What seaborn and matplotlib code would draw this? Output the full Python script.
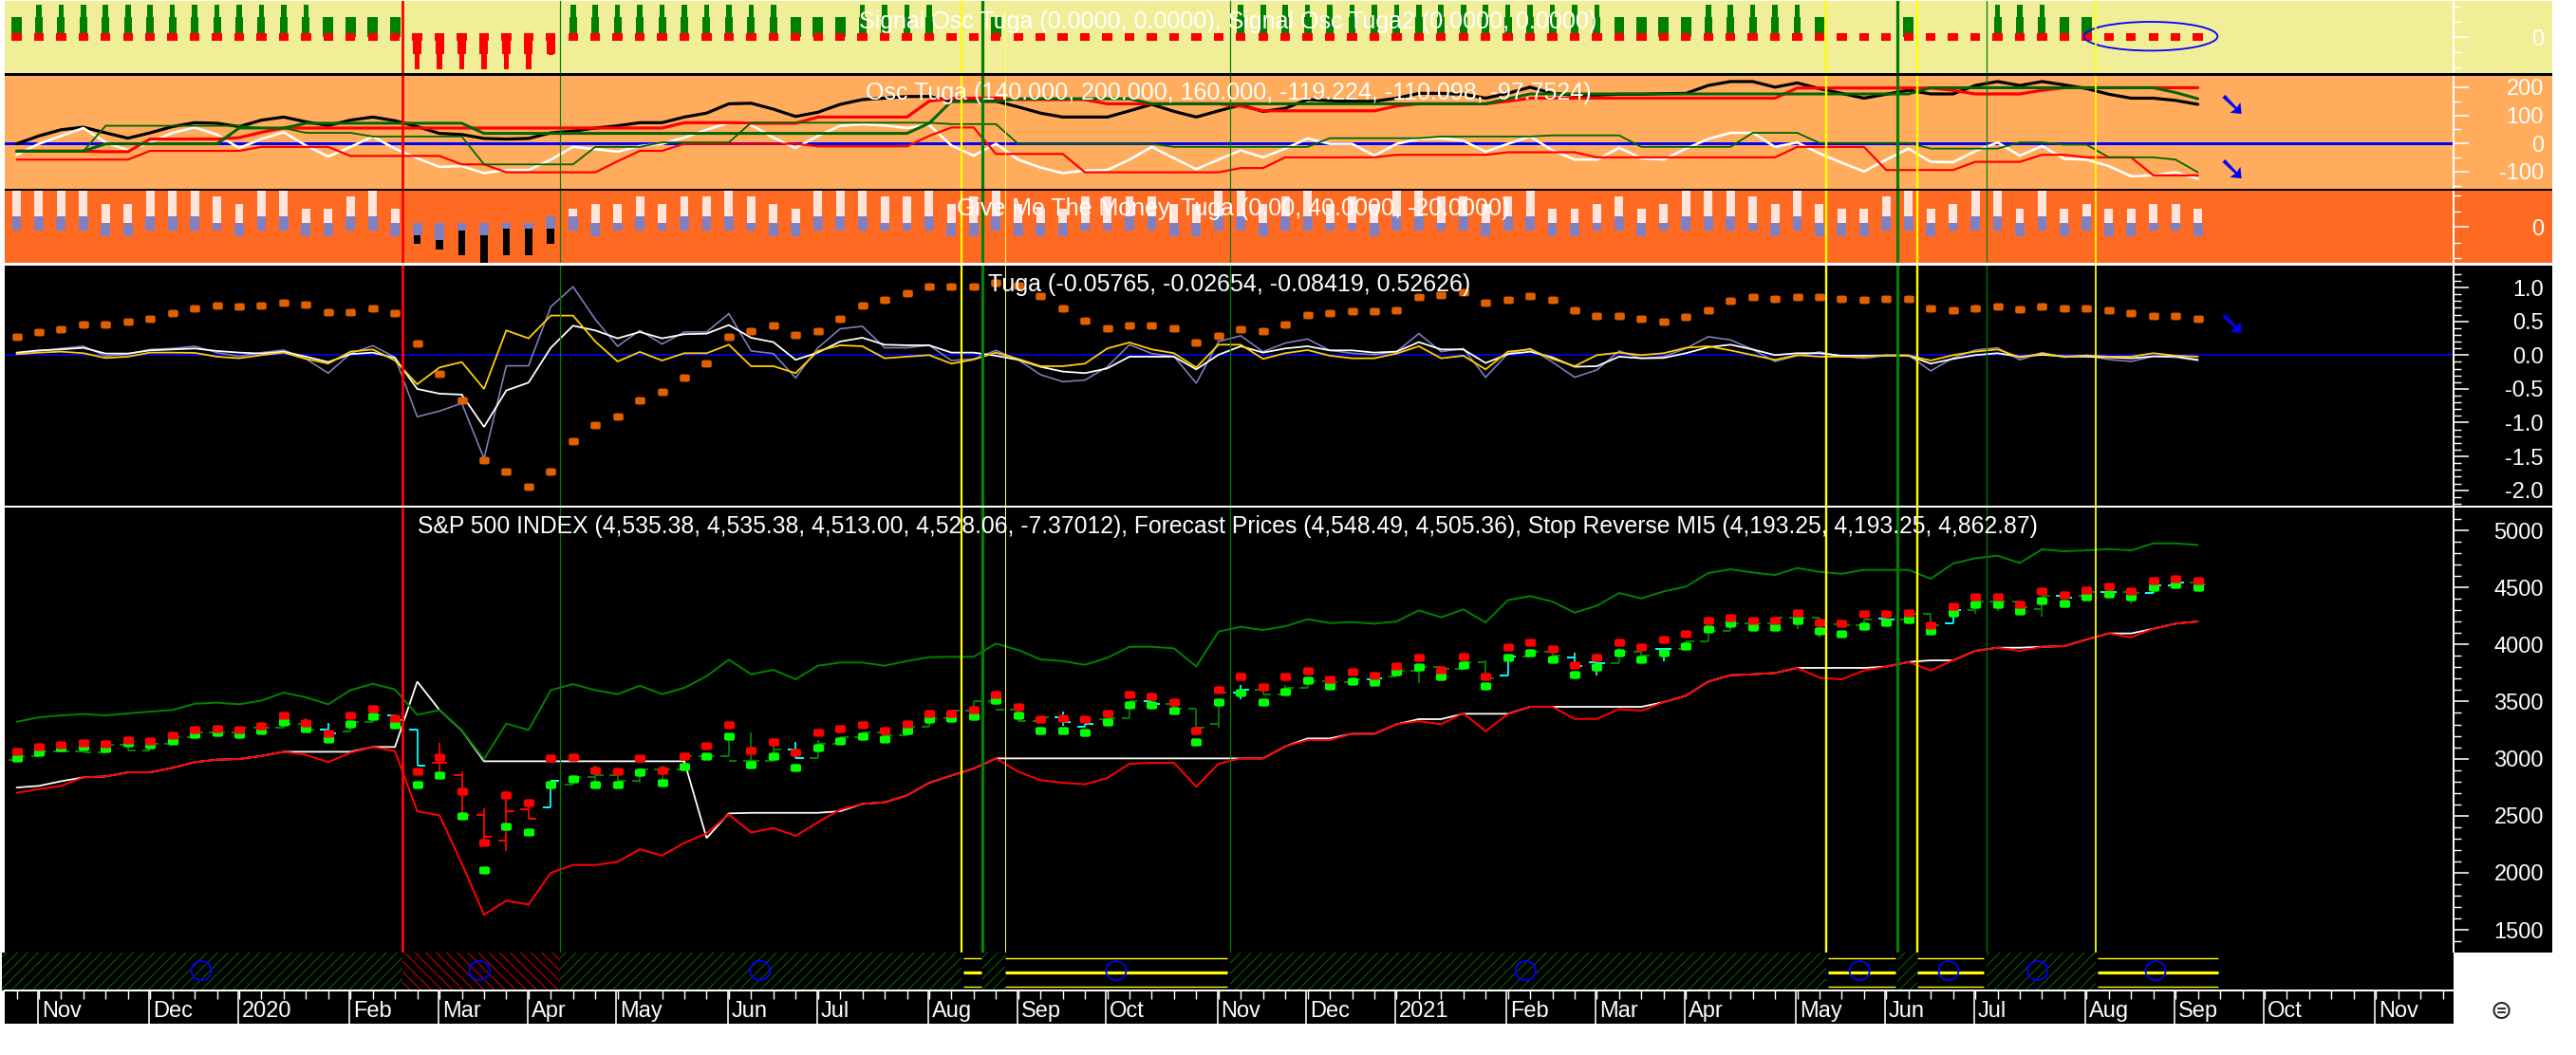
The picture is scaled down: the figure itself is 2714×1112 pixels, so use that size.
import matplotlib
matplotlib.use("Agg")
import matplotlib.pyplot as plt
import seaborn as sns
from matplotlib.patches import Ellipse, Rectangle
from matplotlib.path import Path

# ---------- data ----------
signal_level = [1.31,2.15,2.15,2.15,2.15,2.15,2.15,2.15,2.15,2.15,2.15,2.15,2.15,2.15,1.31,1.31,1.31,1.31,
    -2.1,-2.1,-2.1,-2.1,-2.1,-2.1,-1.2,2.15,2.15,2.15,2.15,2.15,2.15,2.15,2.15,2.15,2.15,1.31,1.31,1.31,
    2.15,2.15,2.15,2.15,0,0,1.31,0,0,0,0,0,0,0,0,0,0,2.15,2.15,2.15,2.15,2.15,2.15,2.15,2.15,2.15,2.15,2.15,
    2.15,2.15,2.15,2.15,2.15,2.15,1.31,1.31,1.31,1.31,2.15,2.15,2.15,2.15,2.15,1.31,0,0,0,1.31,0,0,0,
    2.15,2.15,2.15,1.31,1.31,0,0,0,0,0]

osc_black = [-1,27,49,58,38,19,38,60,74,72,60,83,94,77,64,83,94,81,60,36,32,18,16,18,38,44,55,63,74,74,94,108,
    141,143,122,96,111,139,156,161,167,167,150,150,150,130,108,94,94,94,116,139,114,94,116,137,114,125,156,
    152,150,150,161,178,178,175,161,178,200,178,172,172,175,175,177,178,206,220,220,200,215,195,178,161,175,
    189,176,176,206,220,206,220,208,195,175,161,161,153,139]
osc_white = [-40,-1,27,55,4,-24,4,38,57,32,-16,16,40,-7,-46,-12,25,-18,-52,-83,-80,-105,-94,-94,-57,-12,-20,-29,
    -9,-1,21,49,74,66,21,-16,27,63,68,64,55,66,-7,-43,-1,-57,-85,-105,-96,-94,-57,-12,-52,-91,-57,-24,-49,-18,
    18,-1,-1,-43,-1,16,18,10,-29,-1,25,-24,-57,-57,-15,-52,-57,-18,16,38,38,-12,4,-35,-68,-99,-57,-18,-65,-66,
    -27,4,-43,-9,-54,-57,-80,-116,-113,-102,-125]
osc_red_low = [-57,-57,-57,-57,-57,-57,-26,-26,-26,-26,-26,-12,-12,-12,-12,-44,-44,-44,-44,-44,-74,-74,-102,-102,
    -102,-102,-102,-63,-26,-26,-1,-1,-1,-1,-1,-1,-10,-10,-10,-10,-10,27,57,57,-37,-37,-37,-37,-102,-102,-102,
    -102,-102,-102,-102,-87,-87,-49,-49,-49,-49,-49,-40,-40,-40,-40,-40,-31,-31,-31,-31,-49,-49,-49,-49,-49,
    -49,-49,-49,-49,-12,-12,-12,-12,-94,-94,-94,-94,-65,-65,-65,-40,-40,-49,-49,-49,-113,-113,-113]
osc_red_high = [-27,-27,-27,-27,-29,-29,16,16,16,16,21,40,55,55,55,55,55,55,55,55,55,55,55,55,55,55,55,55,55,55,
    74,74,74,72,72,72,94,94,94,94,94,150,161,161,161,156,156,156,156,141,141,141,141,141,141,133,116,116,116,
    116,116,116,133,141,141,141,141,150,161,161,161,161,161,161,161,161,161,161,161,161,197,197,197,197,197,
    197,197,189,176,176,176,189,198,198,198,198,198,198,198]
osc_green_high = [-27,-27,-27,-27,-1,-1,-1,-1,-1,-1,55,55,55,72,72,72,72,72,72,72,72,36,36,36,36,36,36,36,36,36,
    36,36,36,36,36,36,36,36,36,36,36,72,150,150,150,159,159,159,159,159,159,141,141,141,141,141,141,141,141,
    141,141,141,141,141,141,141,141,159,176,176,176,176,176,176,176,176,176,176,176,176,176,176,176,176,176,
    176,198,198,198,198,198,198,198,198,198,198,198,181,159]
osc_green_low = [-27,-27,-27,-27,63,63,63,63,63,63,63,55,55,38,38,38,25,25,25,25,25,-74,-74,-74,-74,-74,-12,-12,
    -12,4,4,4,4,74,74,74,74,74,74,74,74,74,69,69,69,-1,-1,-1,-1,-1,-1,-1,-12,-12,-12,-12,-12,-12,-12,19,19,19,
    19,19,25,25,25,25,25,29,29,29,29,-12,-12,-12,-12,-12,38,38,38,2,2,2,2,2,-18,-18,-18,-18,4,4,-4,-4,-49,-49,
    -49,-57,-102]

money_top = [2.3,2.3,2.3,2.3,1.49,1.49,2.3,2.3,2.3,1.96,1.49,2.3,2.3,1.18,1.18,1.96,2.3,1.18,
    0,0,0,0,0,0,0,1.18,1.49,1.49,1.96,1.49,1.96,1.96,2.3,1.96,1.49,1.18,2.3,2.3,2.3,1.96,1.96,2.3,1.49,1.96,
    2.3,1.49,1.18,1.18,1.96,1.96,1.96,1.96,1.49,1.49,2.3,2.3,1.49,1.96,2.3,1.49,1.96,1.49,2.3,2.3,1.96,1.96,
    1.49,1.96,2.3,1.18,1.18,1.49,1.96,1.18,1.49,2.3,2.3,2.3,1.96,1.49,2.3,1.49,1.18,1.18,1.96,2.3,1.18,1.49,
    2.3,2.3,1.18,2.3,1.18,1.49,1.18,1.18,1.49,1.49,1.18]
money_blue_top = [.67,.67,.67,.67,.27,.27,.67,.67,.67,.27,.27,.67,.67,.27,.27,.67,.67,.27,
    .27,.27,.27,.27,.27,.27,.67,.67,.27,.27,.67,.27,.67,.67,.67,.27,.27,.27,.67,.67,.67,.27,.27,.67,.27,.27,
    .67,.27,.27,.27,.27,.27,.67,.67,.27,.27,.67,.67,.27,.67,.67,.27,.27,.27,.67,.67,.27,.67,.27,.67,.67,.27,
    .27,.27,.67,.27,.27,.67,.67,.67,.27,.27,.67,.27,.27,.27,.67,.67,.27,.27,.67,.67,.27,.67,.27,.67,.27,.27,
    .27,.27,.27]
money_blue_bot = [-.25,-.25,-.25,-.25,-.63,-.63,-.25,-.25,-.25,-.25,-.63,-.25,-.25,-.63,-.63,-.25,-.25,-.63,
    -.55,-.86,-.24,-.55,-.14,-.14,-.14,-.25,-.63,-.25,-.25,-.25,-.25,-.25,-.25,-.25,-.63,-.63,-.25,-.25,-.25,
    -.25,-.25,-.25,-.63,-.63,-.25,-.63,-.63,-.63,-.25,-.25,-.25,-.25,-.63,-.63,-.25,-.25,-.63,-.25,-.25,-.25,
    -.25,-.63,-.25,-.25,-.25,-.25,-.63,-.25,-.25,-.63,-.63,-.25,-.25,-.63,-.25,-.25,-.25,-.25,-.25,-.63,-.25,
    -.63,-.63,-.63,-.25,-.25,-.63,-.25,-.25,-.25,-.63,-.25,-.63,-.25,-.63,-.63,-.25,-.25,-.63]
money_black_weeks = [18,19,20,21,22,23,24]
money_black_low = [-1.06,-1.43,-1.84,-2.29,-1.84,-1.84,-1.06]

tuga_orange = [.276,.342,.379,.459,.459,.492,.538,.623,.693,.73,.726,.74,.777,.749,.641,.641,.693,.623,.169,-.276,
    -.674,-1.554,-1.718,-1.952,-1.718,-1.273,-1.039,-.913,-.674,-.538,-.328,-.117,.276,.351,.435,.295,.351,.538,
    .74,.824,.913,1.021,1.021,1.021,1.067,1.035,.88,.693,.515,.403,.435,.435,.403,.192,.281,.379,.351,.459,.59,
    .623,.646,.646,.669,.857,.89,.927,.777,.824,.88,.824,.669,.576,.585,.538,.496,.566,.669,.81,.857,.829,.857,
    .857,.833,.824,.829,.829,.693,.669,.693,.726,.684,.726,.693,.693,.669,.623,.585,.585,.538]
tuga_white = [.037,.07,.084,.108,.023,.023,.07,.084,.098,.061,.037,.023,.051,-.023,-.103,.014,.037,-.042,-.501,-.571,
    -.585,-1.063,-.524,-.407,.108,.435,.365,.248,.342,.248,.309,.318,.445,.257,.192,-.07,.037,.201,.257,.154,.145,
    .145,.037,.037,-.009,-.07,-.173,-.243,-.267,-.197,-.023,-.023,-.023,-.211,.005,.131,.037,.098,.131,.07,.07,.037,
    .051,.192,.084,.084,-.117,.014,.051,-.033,-.173,-.164,-.023,-.047,-.042,.028,.117,.154,.084,0,.028,.028,-.009,
    -.009,-.005,-.009,-.126,-.056,0,.028,-.023,.005,-.019,-.023,-.033,-.047,-.019,-.019,-.07]
tuga_yellow = [.014,.037,.051,.028,-.042,-.023,.037,.037,.033,-.023,-.047,0,.037,-.056,-.126,.051,.084,-.08,-.431,-.183,
    -.103,-.501,.365,.248,.585,.585,.201,-.094,.047,-.08,.028,.028,.154,-.164,-.164,-.267,.061,.145,.131,-.047,-.023,
    0,-.126,-.066,.037,-.056,-.164,-.164,-.126,.098,.187,.084,.028,-.183,.154,.154,-.056,.028,.075,-.009,-.047,-.047,
    .023,.131,-.047,-.009,-.211,.052,.084,-.056,-.164,0,.037,0,.028,.108,.131,.07,0,-.07,0,-.023,-.023,-.023,-.005,
    -.005,-.08,0,.052,.084,-.033,.023,-.023,-.005,-.023,-.023,.028,-.009,-.023]
tuga_purple = [.028,.061,.098,.131,-.014,.014,.084,.098,.131,.037,-.019,.037,.075,-.056,-.267,.023,.14,-.033,-.913,-.829,
    -.712,-1.531,-.159,-.159,.716,1.011,.529,.131,.365,.164,.342,.342,.613,.061,.023,-.337,.108,.389,.426,.108,.108,
    .145,-.08,-.056,.07,-.07,-.29,-.393,-.37,-.173,.154,.023,-.019,-.417,.201,.286,.051,.178,.239,.07,.028,.005,.051,
    .318,.051,.098,-.328,.023,.098,-.103,-.328,-.22,.061,-.047,-.023,.098,.272,.225,.084,-.094,-.009,.047,-.019,-.047,
    -.005,0,-.234,-.042,.075,.108,-.07,.037,-.033,-.005,-.066,-.094,-.019,-.033,-.08]

band_green = [3323,3362,3379,3390,3379,3396,3412,3426,3481,3490,3476,3509,3578,3537,3476,3600,3656,3606,3384,3426,3246,
    2997,3307,3251,3600,3653,3600,3565,3639,3565,3620,3722,3867,3739,3778,3695,3814,3842,3842,3814,3855,3889,3892,3892,
    4008,3952,3869,3855,3822,3883,3980,3980,3966,3808,4113,4155,4127,4160,4221,4188,4196,4183,4202,4299,4238,4307,4194,
    4388,4424,4376,4279,4340,4451,4404,4465,4507,4626,4659,4631,4609,4670,4637,4620,4654,4654,4654,4576,4709,4756,4778,
    4714,4834,4817,4825,4836,4825,4886,4886,4872]
band_red = [2700,2733,2761,2836,2844,2880,2880,2919,2969,2991,2997,3024,3060,3033,2969,3052,3102,3066,2539,2503,2082,
    1633,1755,1722,1999,2068,2068,2096,2206,2151,2262,2345,2511,2353,2392,2323,2442,2553,2603,2617,2678,2788,2852,2913,
    3002,2886,2811,2789,2775,2830,2955,2963,2963,2755,2955,3002,3002,3107,3163,3163,3218,3218,3301,3329,3301,3398,3240,
    3390,3454,3454,3348,3348,3434,3420,3495,3551,3675,3731,3739,3750,3795,3709,3695,3772,3806,3847,3772,3861,3944,3972,
    3944,3980,3986,4044,4097,4063,4138,4183,4202]
stop_white = [2747,2761,2802,2836,2844,2880,2880,2919,2969,2991,2997,3024,3060,3060,3060,3060,3102,3102,3675,3426,3246,
    2977,2977,2977,2977,2977,2977,2977,2977,2977,2977,2304,2520,2525,2525,2525,2525,2539,2603,2617,2678,2788,2852,2913,
    3002,3002,3002,3002,3002,3002,3002,3002,3002,3002,3002,3002,3002,3107,3177,3177,3218,3218,3301,3346,3346,3393,3393,
    3393,3454,3454,3454,3454,3454,3454,3495,3551,3675,3731,3739,3750,3795,3795,3795,3795,3806,3847,3861,3861,3944,3972,
    3972,3980,3986,4044,4097,4097,4138,4183,4202]
forecast_high = [3060,3107,3121,3135,3130,3163,3157,3204,3251,3260,3251,3287,3379,3315,3218,3379,3440,3357,2886,3010,2714,
    2262,2678,2617,3002,3010,2900,2886,3002,2900,3024,3116,3296,3074,3149,3057,3232,3260,3293,3246,3307,3398,3398,3426,
    3564,3454,3343,3351,3343,3398,3564,3545,3495,3246,3606,3717,3628,3717,3772,3695,3759,3725,3808,3883,3781,3897,3722,
    3975,4022,3958,3819,3883,4022,3975,4041,4091,4210,4238,4210,4210,4277,4194,4183,4266,4271,4277,4166,4335,4415,4415,
    4354,4465,4432,4479,4512,4471,4557,4576,4562]
forecast_low = [3002,3057,3093,3102,3088,3141,3121,3154,3210,3226,3210,3246,3323,3260,3168,3307,3370,3293,2775,2858,2497,
    2026,2409,2359,2775,2825,2775,2769,2880,2789,2927,3024,3199,2949,3024,2919,3093,3154,3199,3168,3246,3343,3351,3370,
    3515,3376,3246,3246,3232,3323,3468,3468,3418,3149,3495,3578,3495,3587,3689,3634,3675,3667,3759,3806,3722,3819,3634,
    3883,3925,3869,3736,3806,3930,3869,3925,3986,4133,4183,4152,4152,4210,4119,4097,4160,4194,4221,4119,4277,4354,4354,
    4291,4382,4363,4418,4443,4415,4498,4526,4501]
bar_open = [2991,3019,3066,3066,3052,3121,3074,3129,3190,3226,3226,3268,3268,3301,3251,3240,3323,3376,3254,2960,2858,2506,
    2284,2553,2572,2775,2836,2858,2802,2908,2908,3024,3024,2983,2983,3080,3002,3127,3185,3232,3204,3279,3357,3420,3504,
    3426,3329,3362,3279,3343,3357,3501,3481,3440,3301,3578,3600,3564,3620,3675,3670,3698,3717,3772,3800,3786,3842,3731,
    3892,3939,3883,3842,3836,3939,3961,3961,4030,4119,4183,4183,4238,4238,4174,4166,4230,4221,4266,4183,4299,4374,4376,
    4313,4424,4429,4457,4460,4451,4515,4543]
bar_close = [3019,3066,3066,3052,3121,3074,3129,3190,3226,3226,3268,3268,3301,3251,3218,3323,3376,3341,2941,2960,2510,2312,
    2539,2470,2802,2836,2858,2802,2908,2908,3024,3024,2983,2983,3080,3002,3127,3185,3232,3204,3279,3357,3420,3504,3426,
    3329,3362,3321,3307,3357,3501,3481,3440,3268,3578,3600,3564,3620,3675,3670,3698,3703,3772,3800,3786,3842,3703,3892,
    3939,3905,3808,3836,3939,3905,3961,4030,4119,4183,4183,4238,4238,4174,4166,4221,4221,4266,4166,4299,4374,4376,4327,
    4424,4410,4457,4457,4451,4515,4543,4528]
bar_kind = list("ggggggggggggggcggcc" "rrrrr" "cggggggggggcgggggggggggcc"
                "ggcgggcgggggcgggggcggcc" "ggcgggggggggc" "ggcggggcgcgccggc")
wick_weeks = [12,13,14,19,20,21,22,23,24,26,28,29,32,33,34,35,36,44,47,53,54,55,57,63,66,67,70,71,72,74,76,80,81,87,88,89,91,95]
wick_high = [3343,3351,3310,3135,2886,2561,2714,2608,2789,2941,2913,2936,3199,3226,3177,3143,3163,3587,3412,3440,3509,3648,
    3642,3828,3864,3883,3925,3842,3966,3961,4133,4238,4238,4271,4354,4374,4382,4457]
wick_low = [3268,3301,3218,2830,2497,2276,2193,2470,2572,2761,2789,2775,3024,2941,2983,3002,3002,3468,3287,3268,3274,3523,
    3564,3661,3703,3731,3808,3731,3836,3855,4030,4133,4063,4183,4271,4293,4243,4363]

month_labels = ["Nov","Dec","2020","Feb","Mar","Apr","May","Jun","Jul","Aug","Sep","Oct","Nov","Dec","2021","Feb","Mar","Apr",
    "May","Jun","Jul","Aug","Sep","Oct","Nov"]
month_weeks = [1,6,10,15,19,23,27,32,36,41,45,49,54,58,62,67,71,75,80,84,88,93,97,101,106]

event_weeks = [17.33,24.4,42.45,43.4,44.4,54.5,81.3,84.5,85.4,88.5,93.4]
event_colors = ["#FF0000","#008000","#FFFF00","#008000","#FFFF60","#008000","#FFFF00","#008000","#FFFF00","#008000","#FFFF00"]
event_px = [2.8,1.2,2.2,3.2,1,1.2,2.4,3.2,2.4,1.2,1.8]

green_spans = [(-0.7,17.33),(24.4,42.45),(43.4,44.4),(54.5,81.3),(84.5,85.4),(88.5,93.4)]
red_spans = [(17.33,24.4)]
yellow_spans = [(42.55,43.35),(44.4,54.4),(81.4,84.4),(85.4,88.4),(93.5,98.9)]
face_weeks = [8.3,20.8,33.4,49.4,67.8,82.8,86.8,90.8,96.1]

title_signal = "Signal Osc Tuga (0.0000, 0.0000), Signal Osc Tuga2 (0.0000, 0.0000)"
title_osc = "Osc Tuga (140.000, 200.000, 160.000, -119.224, -110.098, -97.7524)"
title_money = "Give Me The Money, Tuga (0.00, 40.0000, -20.0000)"
title_tuga = "Tuga (-0.05765, -0.02654, -0.08419, 0.52626)"
title_price = ("S&P 500 INDEX (4,535.38, 4,535.38, 4,513.00, 4,528.06, -7.37012), Forecast Prices (4,548.49, 4,505.36), "
               "Stop Reverse MI5 (4,193.25, 4,193.25, 4,862.87)")

weeks = list(range(len(signal_level)))

# ---------- style ----------
sns.set_style("white")
plt.rcParams["font.family"] = ["Liberation Sans", "DejaVu Sans"]
plt.rcParams["hatch.linewidth"] = 0.6
plt.rcParams["patch.force_edgecolor"] = False
W, H = 2714, 1112
fig = plt.figure(figsize=(W / 100, H / 100), dpi=100, facecolor="white")
PT = 0.72
AX_L, AX_R, FIG_R = 5, 2585, 2689
XLIM = ((AX_L - 17.5) / 23.45, (AX_R - 17.5) / 23.45)
KHAKI, ORANGE, DEEP = "#F0EE96", "#FFAD5C", "#FF6A22"
BLOB = Path([(-1, -.55), (-.65, -.75), (.65, -.75), (1, -.55), (1, .55), (.65, .75), (-.65, .75), (-1, .55), (-1, -.55)])


def panel(y0, y1, color, ylim, ticks_major, ticks_minor, labels, x1=AX_R):
    fig.add_artist(Rectangle((AX_L / W, 1 - y1 / H), (FIG_R - AX_L) / W, (y1 - y0) / H,
                             transform=fig.transFigure, color=color, lw=0, zorder=-5))
    ax = fig.add_axes([AX_L / W, 1 - y1 / H, (x1 - AX_L) / W, (y1 - y0) / H], facecolor=color)
    ax.set_xlim(*XLIM)
    ax.set_ylim(*ylim)
    ax.set_xticks([])
    for s in ["top", "left", "bottom"]:
        ax.spines[s].set_visible(False)
    ax.spines["right"].set_color("white")
    ax.spines["right"].set_linewidth(2 * PT)
    ax.yaxis.tick_right()
    ax.set_yticks(ticks_minor, minor=True)
    ax.set_yticks(ticks_major, labels=labels)
    ax.tick_params(axis="y", which="major", direction="out", length=16 * PT, width=1.6 * PT, color="white",
                   labelcolor="white", labelsize=17, pad=79 * PT, right=True)
    ax.tick_params(axis="y", which="minor", direction="out", length=8 * PT, width=1.4 * PT, color="white", right=True)
    for t in ax.get_yticklabels():
        t.set_ha("right")
    return ax


def events(ax):
    for w, c, p in zip(event_weeks, event_colors, event_px):
        ax.axvline(w, color=c, lw=p * PT, zorder=6)


def line(ax, y, color, px, z=3):
    sns.lineplot(x=weeks, y=y, ax=ax, color=color, linewidth=px * PT, estimator=None, errorbar=None, legend=False,
                 sort=False, zorder=z, solid_joinstyle="miter")


def dots(ax, y, color, s=60, z=5):
    sns.scatterplot(x=weeks, y=y, ax=ax, color=color, s=s, marker=BLOB, linewidth=0, legend=False, zorder=z)


def title(ax, px, py, text, size=18):
    fig.text(px / W, 1 - py / H, text, color="white", fontsize=size, va="center", ha="left", zorder=20)


# ---------- panel 1 : signal ----------
ax1 = panel(1, 77, KHAKI, (-2.375, 2.375), [0], [-2, -1, 1, 2], ["0"])
for w, v in zip(weeks, signal_level):
    if v > 1.31:
        ax1.bar(w, 1.31, width=.34, color="#008000", lw=0, zorder=2)
        ax1.bar(w, v, width=.24, color="#008000", lw=0, zorder=2)
    elif v > 0:
        ax1.bar(w, v, width=.46, color="#008000", lw=0, zorder=2)
    elif v < 0:
        ax1.bar(w, max(v, -1.1), width=.38, color="#FF0000", lw=0, zorder=2)
        ax1.bar(w, v, width=.23, color="#FF0000", lw=0, zorder=2)
    ax1.bar(w, .5, bottom=-.22, width=.44, color="#FF0000", lw=0, zorder=3)
ax1.add_patch(Ellipse(((2266 - 17.5) / 23.45, 0.05), 6.0, 1.9, fill=False, edgecolor="#0000FF", lw=1.8 * PT, zorder=5))
events(ax1)
title(ax1, 905, 23, title_signal)

# ---------- panel 2 : oscillator ----------
ax2 = panel(80, 199, ORANGE, (-160.6, 240), [-100, 0, 100, 200], [-150, -50, 50, 150], ["-100", "0", "100", "200"])
ax2.axhline(0, color="#0000FF", lw=3 * PT, zorder=2)
line(ax2, osc_black, "black", 3.2, 3)
line(ax2, osc_white, "white", 2.6, 4)
line(ax2, osc_red_low, "#FF0000", 2.2, 4)
line(ax2, osc_red_high, "#FF0000", 3.2, 4)
line(ax2, osc_green_low, "#006400", 1.8, 5)
line(ax2, osc_green_high, "#006400", 3, 5)
events(ax2)
title(ax2, 912, 98, title_osc)

# ---------- panel 3 : money ----------
ax3 = panel(201, 277, DEEP, (-2.31, 2.33), [0], [-2, -1, 1, 2], ["0"])
ax3.bar(weeks, money_top, width=.38, color="#FFE4DC", lw=0, zorder=2)
for w, low in zip(money_black_weeks, money_black_low):
    ax3.bar(w, low, width=.33, color="black", lw=0, zorder=2)
ax3.bar(weeks, [t - b for t, b in zip(money_blue_top, money_blue_bot)], bottom=money_blue_bot, width=.42,
        color="#8080C0", lw=0, zorder=3)
events(ax3)
title(ax3, 1008, 220, title_money)

# ---------- panel 4 : tuga ----------
maj4 = [-2, -1.5, -1, -.5, 0, .5, 1]
min4 = [m / 10 for m in range(-22, 13) if m % 5]
ax4 = panel(280, 533, "black", (-2.229, 1.324), maj4, min4, ["-2.0", "-1.5", "-1.0", "-0.5", "0.0", "0.5", "1.0"])
ax4.axhline(0, color="#0000FF", lw=1.6 * PT, zorder=2)
line(ax4, tuga_purple, "#8080C0", 1.6, 3)
line(ax4, tuga_white, "white", 1.8, 4)
line(ax4, tuga_yellow, "#FFD000", 1.8, 5)
dots(ax4, tuga_orange, "#E06000", s=58)
events(ax4)
title(ax4, 1041, 300, title_tuga)

# ---------- panel 5 : price ----------
maj5 = [1500, 2000, 2500, 3000, 3500, 4000, 4500, 5000]
min5 = [v for v in range(1400, 5200, 100) if v % 500]
ax5 = panel(534, 1004, "black", (1301, 5208), maj5, min5, [str(v) for v in maj5])
kind_color = {"g": "#008000", "c": "#00FFFF", "r": "#FF0000"}
for w, o, c, k in zip(weeks, bar_open, bar_close, bar_kind):
    col = kind_color[k]
    hi, lo = max(o, c), min(o, c)
    if w in wick_weeks:
        j = wick_weeks.index(w)
        hi, lo = wick_high[j], wick_low[j]
    ax5.vlines(w, lo, hi, color=col, lw=1.8 * PT, zorder=2)
    ax5.hlines(o, w - .36, w, color=col, lw=2 * PT, zorder=2)
    ax5.hlines(c, w, w + .36, color=col, lw=2 * PT, zorder=2)
line(ax5, stop_white, "white", 1.8, 3)
line(ax5, band_red, "#FF0000", 2, 4)
line(ax5, band_green, "#008000", 2, 4)
dots(ax5, forecast_low, "#00FF00", s=64, z=5)
dots(ax5, forecast_high, "#FF0000", s=64, z=5)
events(ax5)
title(ax5, 440, 555, title_price, size=17.85)

# blue trend arrows
for ax, yv in [(ax2, 132), (ax2, -97), (ax4, .44)]:
    ax.text((2352 - 17.5) / 23.45, yv, "\u2798", color="#0000FF", fontsize=26, ha="center", va="center", zorder=8,
            family=["DejaVu Sans"], fontweight="bold")

# ---------- separators ----------
for y0, y1, c in [(77, 80, "black"), (199, 201, "black"), (277, 280, "white"), (533, 534.5, "white")]:
    fig.add_artist(Rectangle((AX_L / W, 1 - y1 / H), (FIG_R - AX_L) / W, (y1 - y0) / H, transform=fig.transFigure,
                             color=c, lw=0, zorder=10))

# ---------- hatch band ----------
band = fig.add_axes([2 / W, 1 - 1044 / H, (AX_R - 2) / W, 40 / H], facecolor="black")
band.set_xlim((2 - 17.5) / 23.45, XLIM[1])
band.set_ylim(0, 1)
band.axis("off")
band.add_patch(Rectangle((0, 0), 1, 1, transform=band.transAxes, color="black", lw=0, zorder=0))
for a, b in green_spans:
    band.axvspan(a, b, facecolor="black", edgecolor="#008000", hatch="///", lw=0, zorder=1)
for a, b in red_spans:
    band.axvspan(a, b, facecolor="black", edgecolor="#FF0000", hatch="\\\\\\", lw=0, zorder=1)
for a, b in yellow_spans:
    band.hlines([.85, .1], a, b, color="#FFFF00", lw=1.4 * PT, zorder=2)
    band.hlines([.475], a, b, color="#FFFF00", lw=3.2 * PT, zorder=2)
for w in face_weeks:
    band.add_patch(Ellipse((w, .525), .9, .5, fill=False, edgecolor="#0000FF", lw=1.8 * PT, zorder=3))

# ---------- date axis ----------
dax = fig.add_axes([AX_L / W, 1 - 1079 / H, (AX_R - AX_L) / W, 35 / H], facecolor="black")
dax.set_xlim(*XLIM)
dax.set_ylim(0, 1)
dax.set_yticks([])
for s in ["left", "right", "bottom"]:
    dax.spines[s].set_visible(False)
dax.spines["top"].set_color("white")
dax.spines["top"].set_linewidth(2 * PT)
dax.xaxis.tick_top()
dax.set_xticks(list(range(0, 110)), labels=[""] * 110)
dax.tick_params(axis="x", direction="in", length=9 * PT, width=1.4 * PT, color="white", top=True)
dax.vlines([m - .05 for m in month_weeks], 0, 1, color="white", lw=1.6 * PT, zorder=3)
for m, lab in zip(month_weeks, month_labels):
    dax.text(m + .12, .36, lab, color="white", fontsize=17, va="center", ha="left", zorder=4)
fig.text(2635 / W, 1 - 1066 / H, "\u229C", color="#222222", fontsize=20, ha="center", va="center", family=["DejaVu Sans"])

fig.savefig("out.png", dpi=100, facecolor="white")
